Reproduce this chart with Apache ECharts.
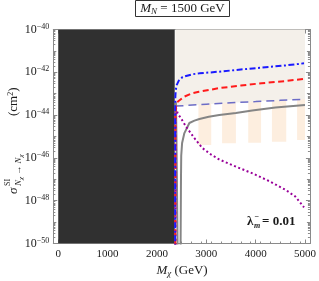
<!DOCTYPE html>
<html><head><meta charset="utf-8">
<script src="https://cdn.jsdelivr.net/npm/echarts@6/dist/echarts.min.js"></script>
<style>html,body{margin:0;padding:0;background:#fff}#c{width:319px;height:281px}</style>
</head><body><div id="c"></div>
<script>
// ---- axis ranges / ticks (log10 of sigma on y) ----
const xTickValues = [0, 1000, 2000, 3000, 4000, 5000];
const yTickValues = [-50, -48, -46, -44, -42, -40];

// ---- regions ----
const excludedRegion = [0, 2360];               // dark band in M_chi
const boundaryX = [2375, 2600, 3000, 3500, 4000, 4500, 5000];
const boundaryY = [-43.58, -43.55, -43.49, -43.42, -43.37, -43.31, -43.26];
const stripeStart = [2840, 3320, 3850, 4330, 4840];
const stripeEnd = [3100, 3600, 4110, 4620, 5000];
const stripeBottom = [-45.4, -45.32, -45.29, -45.24, -45.16];

// ---- curves ----
const blueX = [2368, 2369, 2372, 2380, 2400, 2440, 2520, 2720, 2860, 3260, 3700, 4120, 4600, 4980];
const blueY = [-50.5, -44, -43.2, -42.85, -42.6, -42.4, -42.22, -42.09, -42.05, -41.97, -41.87, -41.78, -41.68, -41.58];
const redX = [2372, 2373, 2376, 2390, 2420, 2550, 2710, 2850, 3260, 3700, 4120, 4600, 4970];
const redY = [-50.5, -44.5, -43.9, -43.55, -43.38, -43.14, -42.98, -42.91, -42.74, -42.62, -42.51, -42.41, -42.31];
const purpleX = [2376, 2377, 2390, 2420, 2500, 2590, 2760, 2920, 3100, 3260, 3600, 3935, 4270, 4610, 4800, 4980];
const purpleY = [-50.5, -43.6, -43.7, -43.92, -44.2, -44.54, -45.08, -45.54, -45.85, -46.07, -46.41, -46.72, -47.08, -47.5, -47.8, -48.31];
const grayX = [2385, 2395, 2405, 2420, 2478, 2487, 2492, 2510, 2556, 2657, 2760, 2860, 3050, 3263, 3600, 3930, 4400, 5000];
const grayY = [-43.4, -45, -47, -50.5, -50.5, -47, -45.9, -45.3, -44.84, -44.37, -44.26, -44.18, -44.08, -44.0, -43.9, -43.79, -43.65, -43.53];

const pairs = (xs, ys) => xs.map((x, i) => [x, ys[i]]);
const FRAME = '#8a8a8a', TXT = '#1a1a1a', SERIF = 'Liberation Serif';

const minorX = [];
for (let v = -100; v <= 5100; v += 200) if (v % 1000 !== 0) minorX.push(v);
const midY = [-49, -47, -45, -43, -41];
const minorY = [];
for (let d = -50; d < -40; d++) for (let k = 2; k <= 9; k++) minorY.push(d + Math.log10(k));

function xAx(pos, ticks, len, labels) {
  return {
    type: 'value', min: -100, max: 5100, position: pos,
    axisLine: { show: !!labels, onZero: false, lineStyle: { color: FRAME, width: 1 } },
    axisTick: { show: true, inside: true, length: len, customValues: ticks, lineStyle: { color: FRAME } },
    axisLabel: labels ? { show: true, customValues: ticks, margin: 5, formatter: v => String(Math.round(v)),
      fontFamily: SERIF, fontSize: 11, color: TXT } : { show: false },
    splitLine: { show: false }
  };
}
function yAx(pos, ticks, len, labels) {
  return {
    type: 'value', min: -50, max: -40, position: pos,
    axisLine: { show: !!labels, onZero: false, lineStyle: { color: FRAME, width: 1 } },
    axisTick: { show: true, inside: true, length: len, customValues: ticks, lineStyle: { color: FRAME } },
    axisLabel: labels ? {
      show: true, customValues: ticks, margin: 4,
      formatter: v => '{b|10}{s|−' + Math.abs(Math.round(v)) + '}',
      rich: { b: { fontFamily: SERIF, fontSize: 12, color: TXT, lineHeight: 14 },
              s: { fontFamily: SERIF, fontSize: 8, color: TXT, verticalAlign: 'top', lineHeight: 10 } }
    } : { show: false },
    splitLine: { show: false }
  };
}

function rectSeries(rows, color) {
  return {
    type: 'custom', xAxisIndex: 0, yAxisIndex: 0, clip: true, silent: true,
    encode: { x: [0, 1], y: [2, 3] },
    data: rows,
    renderItem: (params, api) => {
      const p0 = api.coord([api.value(0), api.value(3)]);
      const p1 = api.coord([api.value(1), api.value(2)]);
      return { type: 'rect', shape: { x: p0[0], y: p0[1], width: p1[0] - p0[0], height: p1[1] - p0[1] }, style: { fill: color } };
    }
  };
}
function lineSeries(data, color, width, type) {
  return {
    type: 'line', data, symbol: 'none', clip: true, silent: true, animation: false,
    lineStyle: { color, width, type, cap: 'butt' }
  };
}

const chart = echarts.init(document.getElementById('c'), null, { renderer: 'canvas' });
chart.setOption({
  animation: false,
  backgroundColor: '#fff',
  grid: { left: 53.3, right: 7.5, top: 29.5, bottom: 37.5, containLabel: false },
  xAxis: [
    xAx('bottom', xTickValues, 4, true),
    xAx('bottom', minorX, 2, false),
    Object.assign(xAx('top', xTickValues, 4, false), { axisLine: { show: true, onZero: false, lineStyle: { color: FRAME } } }),
    xAx('top', minorX, 2, false)
  ],
  yAxis: [
    yAx('left', yTickValues, 4, true),
    yAx('left', midY, 3, false),
    yAx('left', minorY, 2, false),
    Object.assign(yAx('right', yTickValues, 4, false), { axisLine: { show: true, onZero: false, lineStyle: { color: FRAME } } }),
    yAx('right', midY, 3, false),
    yAx('right', minorY, 2, false)
  ],
  series: [
    rectSeries([[excludedRegion[0], excludedRegion[1], -50, -40]], '#303030'),
    rectSeries(stripeStart.map((s, i) => [s, stripeEnd[i], stripeBottom[i], -43.0]), '#fdeedf'),
    Object.assign(lineSeries(pairs(boundaryX, boundaryY), '#6c6cc6', 1.5, [8, 5]),
      { areaStyle: { color: '#f4f0ea', opacity: 1, origin: 'end' } }),
    lineSeries(pairs(grayX, grayY), '#858585', 2, 'solid'),
    lineSeries(pairs(purpleX, purpleY), '#990099', 2, [2, 2.5]),
    lineSeries(pairs(redX, redY), '#ff1a1a', 2, [6, 3.5]),
    lineSeries(pairs(blueX, blueY), '#1a1aff', 2, [6, 2.5, 2, 2.5])
  ],
  graphic: [
    { type: 'rect', shape: { x: 135.5, y: 0.5, width: 94, height: 16 }, style: { fill: '#fff', stroke: '#333', lineWidth: 1 } },
    { type: 'text', x: 182.5, y: 9, style: {
        text: '{i|M}{sb|N}{r| = 1500 GeV}', align: 'center', verticalAlign: 'middle',
        rich: { i: { fontFamily: SERIF, fontStyle: 'italic', fontSize: 13, fill: TXT, lineHeight: 15 },
                sb: { fontFamily: SERIF, fontStyle: 'italic', fontSize: 9, fill: TXT, verticalAlign: 'bottom', lineHeight: 11 },
                r: { fontFamily: SERIF, fontSize: 13, fill: TXT, lineHeight: 15 } } } },
    { type: 'text', x: 182, y: 271, style: {
        text: '{i|M}{sb|χ}{r| (GeV)}', align: 'center', verticalAlign: 'middle',
        rich: { i: { fontFamily: SERIF, fontStyle: 'italic', fontSize: 13, fill: TXT, lineHeight: 15 },
                sb: { fontFamily: SERIF, fontStyle: 'italic', fontSize: 9, fill: TXT, verticalAlign: 'bottom', lineHeight: 11 },
                r: { fontFamily: SERIF, fontSize: 13, fill: TXT, lineHeight: 15 } } } },
    { type: 'group', x: 14, y: 138, rotation: Math.PI / 2, children: [
        { type: 'text', x: -56, y: 0, style: { text: 'σ', font: 'italic 13px "Liberation Serif"', fill: TXT, align: 'left', verticalAlign: 'middle' } },
        { type: 'text', x: -48, y: -6, style: { text: 'SI', font: '8px "Liberation Serif"', fill: TXT, align: 'left', verticalAlign: 'middle' } },
        { type: 'text', x: -48, y: 5, style: {
            text: '{n|N}{c|χ}{a| → }{n|N}{c|χ}', align: 'left', verticalAlign: 'middle',
            rich: { n: { fontFamily: SERIF, fontStyle: 'italic', fontSize: 9, fill: TXT, lineHeight: 11 },
                    c: { fontFamily: SERIF, fontStyle: 'italic', fontSize: 7, fill: TXT, verticalAlign: 'bottom', lineHeight: 9 },
                    a: { fontFamily: SERIF, fontSize: 9, fill: TXT, lineHeight: 11 } } } },
        { type: 'text', x: 22, y: 0, style: {
            text: '{r|(cm}{s|2}{r|)}', align: 'left', verticalAlign: 'middle',
            rich: { r: { fontFamily: SERIF, fontSize: 13, fill: TXT, lineHeight: 15 },
                    s: { fontFamily: SERIF, fontSize: 8, fill: TXT, verticalAlign: 'top', lineHeight: 10 } } } }
    ] },
    { type: 'group', x: 247, y: 222, children: [
        { type: 'text', x: 0, y: 0, style: { text: 'λ', font: 'bold 13px "Liberation Serif"', fill: TXT, align: 'left', verticalAlign: 'middle' } },
        { type: 'text', x: 7, y: 4, style: { text: 'm', font: 'bold italic 8px "Liberation Serif"', fill: TXT, align: 'left', verticalAlign: 'middle' } },
        { type: 'text', x: 7.5, y: -5, style: { text: '−', font: 'bold 8px "Liberation Serif"', fill: TXT, align: 'left', verticalAlign: 'middle' } },
        { type: 'text', x: 15, y: 0, style: { text: '= 0.01', font: 'bold 13px "Liberation Serif"', fill: TXT, align: 'left', verticalAlign: 'middle' } }
    ] }
  ]
});
</script></body></html>
